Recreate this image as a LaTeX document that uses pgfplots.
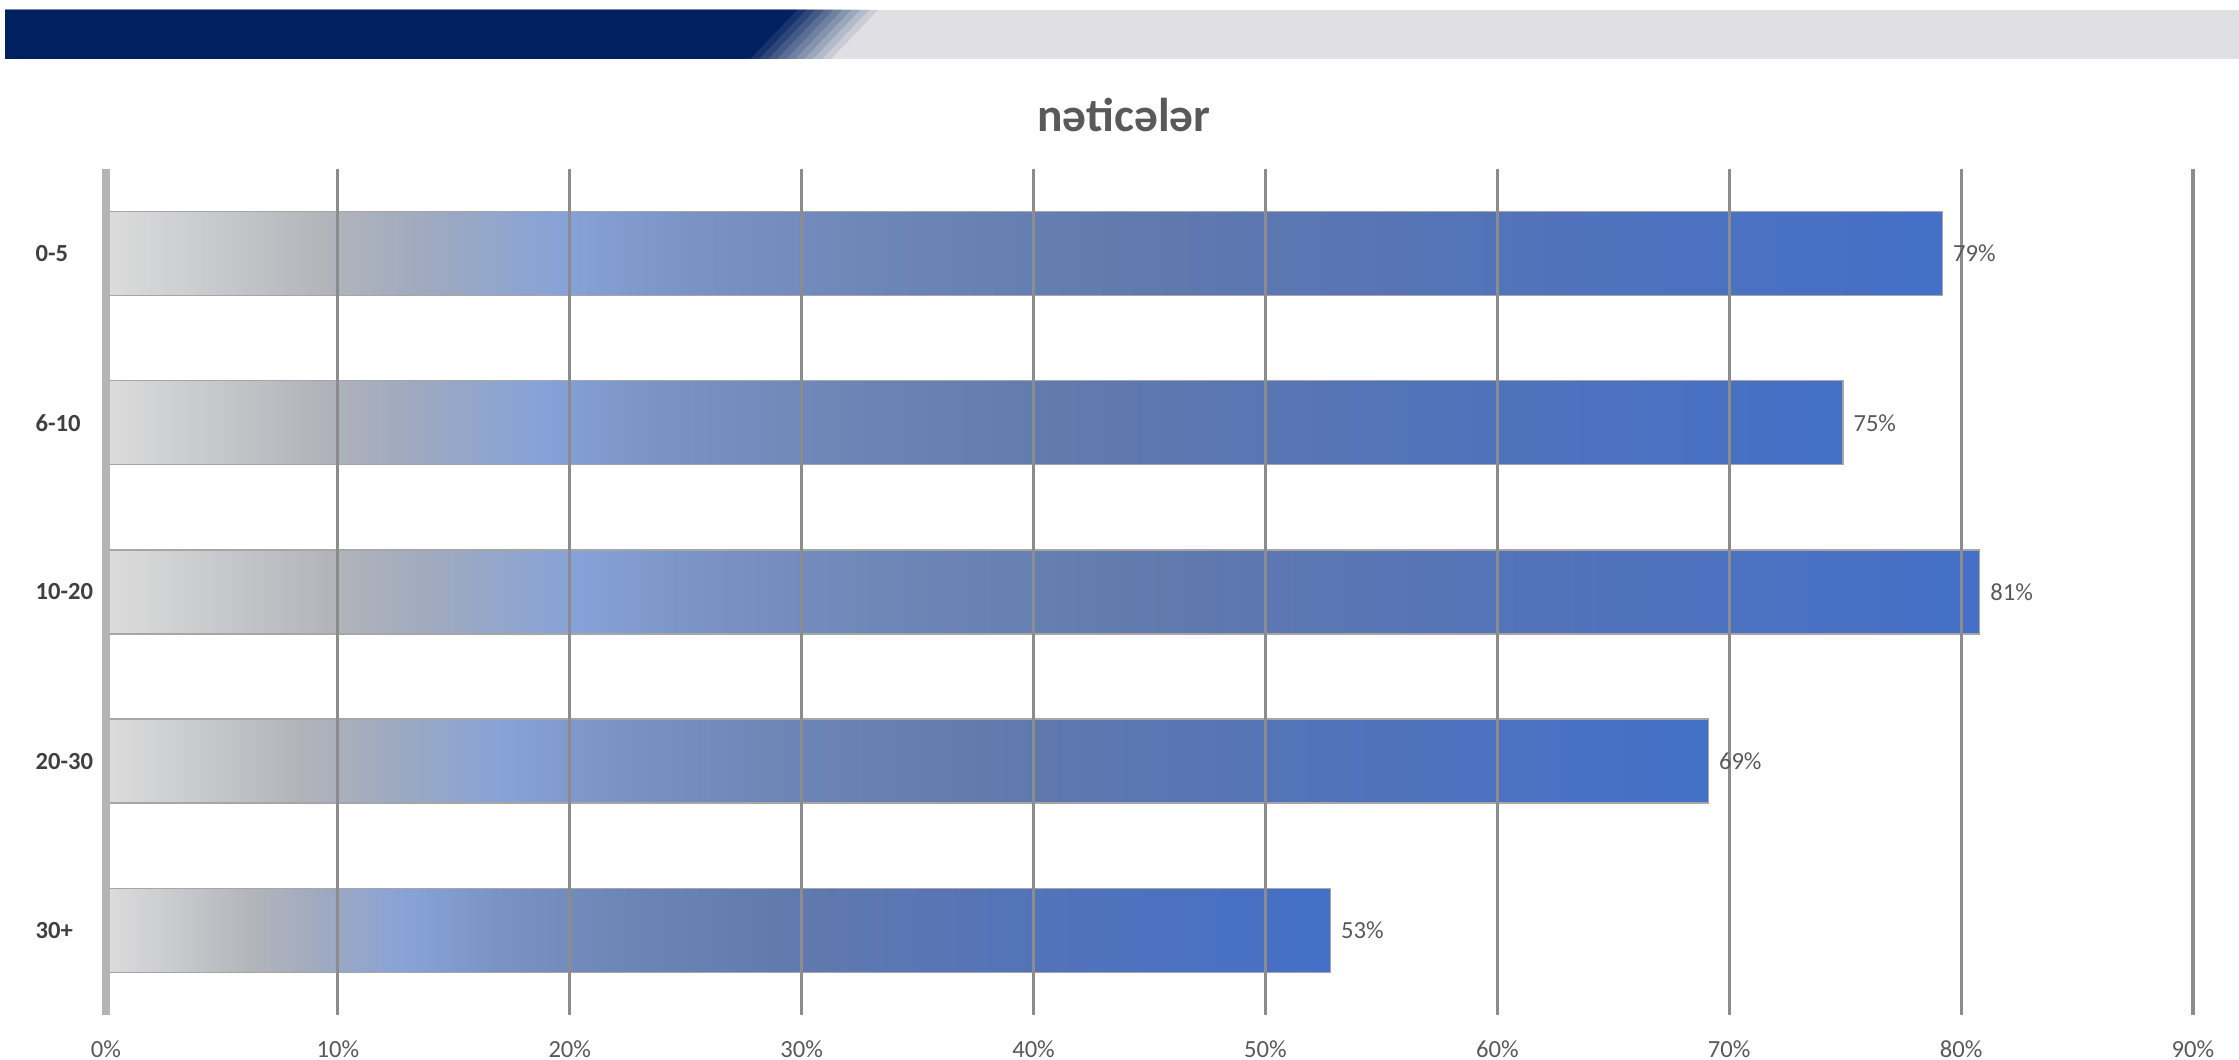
\documentclass[border=0pt]{standalone}
\usepackage{fontspec}
\setmainfont{Carlito}
\usepackage{pgfplots}
\pgfplotsset{compat=1.18}
\definecolor{navy}{HTML}{002060}
\definecolor{bannergrey}{HTML}{E0E0E4}
\definecolor{txtgrey}{HTML}{595959}
\definecolor{lblgrey}{HTML}{404040}
\definecolor{gridgrey}{HTML}{8C8C8C}
\definecolor{zerogrey}{HTML}{B4B4B4}
\pgfdeclarehorizontalshading{barshade}{100bp}{%
rgb(0bp)=(0.863,0.863,0.863);
rgb(25bp)=(0.863,0.863,0.863);
rgb(28bp)=(0.784,0.788,0.800);
rgb(31bp)=(0.698,0.706,0.729);
rgb(34bp)=(0.616,0.663,0.757);
rgb(37.5bp)=(0.525,0.635,0.847);
rgb(41bp)=(0.478,0.576,0.769);
rgb(46bp)=(0.424,0.525,0.714);
rgb(53.5bp)=(0.376,0.475,0.682);
rgb(65bp)=(0.314,0.447,0.737);
rgb(75bp)=(0.267,0.439,0.784);
rgb(100bp)=(0.267,0.439,0.784)}
\pgfplotsset{
  mybar/.style={xbar, bar width=0.84cm, bar shift=0pt, shading=barshade, draw=black!35, line width=0.4pt,
    point meta=x,
    nodes near coords={\pgfmathprintnumber[fixed,precision=0,assume math mode=true]{\pgfplotspointmeta}\%},
    every node near coord/.append style={anchor=west, inner sep=0pt, xshift=0.1cm, font=\fontsize{7}{8}\selectfont, text=txtgrey}}
}
\begin{document}
\begin{tikzpicture}[x=1cm,y=1cm]
\useasboundingbox (0,0) rectangle (22.39,10.60);
\fill[bannergrey] (0.05,10.01) rectangle (22.39,10.50);
\foreach \i in {9,...,0} {
  \pgfmathsetmacro\mix{100-10*\i}
  \fill[navy!\mix!bannergrey] (0.05,10.01) -- ({7.50+0.09*\i},10.01) -- ({7.97+0.09*\i},10.50) -- (0.05,10.50) -- cycle;
}
\node[anchor=base, font=\fontsize{13.5}{16}\selectfont\bfseries, text=txtgrey] at (11.24,9.28) {nəticələr};
\begin{axis}[
  at={(1.06cm,0.45cm)}, anchor=south west,
  scale only axis, width=20.87cm, height=8.46cm,
  xmin=0, xmax=90, ymin=-0.5, ymax=4.5,
  axis line style={draw=none},
  major tick length=0pt,
  xtick={10,20,...,90},
  xticklabels={10\%,20\%,30\%,40\%,50\%,60\%,70\%,80\%,90\%},
  extra x ticks={0},
  extra x tick labels={0\%},
  extra x tick style={grid style={zerogrey, line width=2.2pt}},
  ytick={0,1,2,3,4},
  yticklabels={30+,20-30,10-20,6-10,0-5},
  xmajorgrids,
  grid style={gridgrey, line width=0.9pt},
  axis on top,
  xticklabel style={anchor=north, inner sep=0pt, yshift=-0.25cm, font=\fontsize{7}{8}\selectfont, text=txtgrey},
  yticklabel style={anchor=west, inner sep=0pt, xshift=-0.71cm, font=\fontsize{7}{8}\selectfont\bfseries, text=lblgrey},
]
\addplot[mybar] coordinates {(79.2,4)};
\addplot[mybar] coordinates {(74.9,3)};
\addplot[mybar] coordinates {(80.8,2)};
\addplot[mybar] coordinates {(69.1,1)};
\addplot[mybar] coordinates {(52.8,0)};
\end{axis}
\end{tikzpicture}
\end{document}
